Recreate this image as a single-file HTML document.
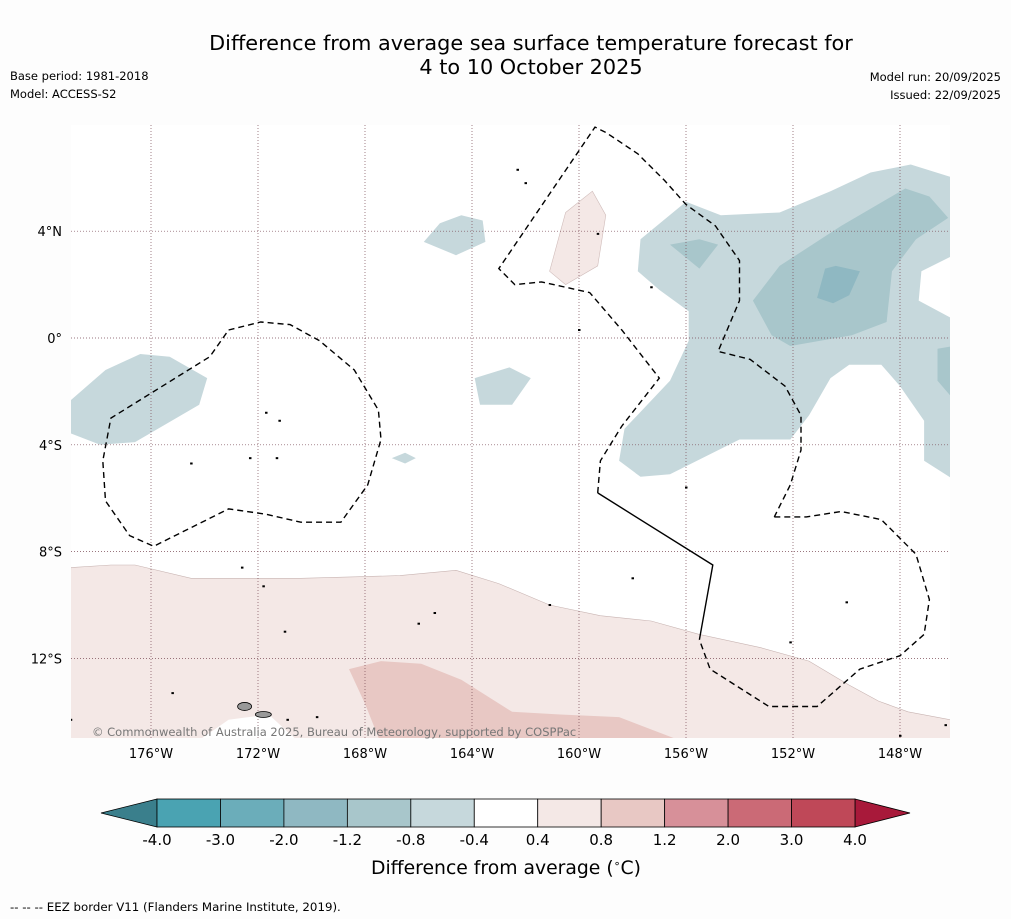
<!DOCTYPE html>
<html><head><meta charset="utf-8">
<style>
html,body{margin:0;padding:0;background:#fdfdfd;}
svg{display:block;font-family:"DejaVu Sans","Liberation Sans",sans-serif;}
</style></head>
<body>
<svg id="chart" width="1011" height="919" viewBox="0 0 1011 919" xmlns="http://www.w3.org/2000/svg">
<rect width="1011" height="919" fill="#fdfdfd"/>
<text x="531" y="50" font-size="20.8" text-anchor="middle">Difference from average sea surface temperature forecast for</text>
<text x="531" y="74" font-size="20.8" text-anchor="middle">4 to 10 October 2025</text>
<text x="10" y="80" font-size="11.5">Base period: 1981-2018</text>
<text x="10" y="98" font-size="11.5">Model: ACCESS-S2</text>
<text x="1001" y="81" font-size="11.5" text-anchor="end">Model run: 20/09/2025</text>
<text x="1001" y="99" font-size="11.5" text-anchor="end">Issued: 22/09/2025</text>
<defs><clipPath id="mapclip"><rect x="71" y="125" width="879" height="613"/></clipPath></defs>
<rect x="71" y="125" width="879" height="613" fill="#ffffff"/>
<g id="fills" clip-path="url(#mapclip)"></g>
<g id="grid" clip-path="url(#mapclip)"></g>
<g id="eez" clip-path="url(#mapclip)"></g>
<g id="islands" clip-path="url(#mapclip)"></g>
<g id="axes"></g>
<text x="92" y="736" font-size="11.5" fill="#777">© Commonwealth of Australia 2025, Bureau of Meteorology, supported by COSPPac</text>
<g id="colorbar"></g>
<text x="506" y="874" font-size="18.8" text-anchor="middle">Difference from average (<tspan font-size="11" dy="-7">∘</tspan><tspan dy="7">C)</tspan></text>
<text x="10" y="911" font-size="11.8">--  --  -- EEZ border V11 (Flanders Marine Institute, 2019).</text>
</svg>
<script>
const lonTicks = [176,172,168,164,160,156,152,148];
const latTicks = [4,0,-4,-8,-12];
const latLabels = ["4°N","0°","4°S","8°S","12°S"];
const cbLevels = [-4.0,-3.0,-2.0,-1.2,-0.8,-0.4,0.4,0.8,1.2,2.0,3.0,4.0];
const cbColors = ["#4aa3b2","#6badba","#8fb8c2","#a8c6cb","#c6d8dc","#ffffff","#f4e8e6","#e8c8c4","#d79099","#cb6a76","#bf4858"];

const pinkLight = [[179,-8.6],[177.5,-8.5],[176.6,-8.5],[174.5,-9.0],[172.7,-9.0],[170.4,-9.0],[166.7,-8.9],[164.6,-8.7],[163,-9.2],[161.1,-10.0],[159.2,-10.4],[157.3,-10.6],[155.5,-11.1],[153.2,-11.6],[151.4,-12.1],[149.9,-13.0],[148.8,-13.6],[147.7,-14.0],[146.1,-14.3],[146.0,-15.2],[179.2,-15.2]];
const pinkNotch = [[174.4,-15.2],[173.1,-14.3],[171.6,-14.1],[170.4,-15.2]];
const pinkDark = [[168.6,-12.4],[167.4,-12.1],[165.9,-12.2],[164.4,-12.8],[162.5,-14.0],[160.7,-14.1],[158.5,-14.2],[155.9,-15.2],[167.4,-15.2],[168.0,-13.7]];
const pinkNorth = [[160.5,4.7],[159.5,5.5],[159.0,4.6],[159.3,2.7],[160.5,2.0],[161.1,2.5]];
const blueEast = [[157.8,2.5],[157.7,3.7],[156,5.1],[154.7,4.6],[152.5,4.7],[150.6,5.5],[149.1,6.2],[147.6,6.5],[146.0,6.0],[146.0,3.1],[147.2,2.5],[147.3,1.4],[146.0,0.7],[146.0,-5.3],[147.1,-4.6],[147.1,-3.1],[148,-1.8],[148.7,-1.0],[149.9,-1.0],[150.6,-1.5],[151.4,-2.9],[152.1,-3.8],[154,-3.8],[156.6,-5.1],[157.7,-5.2],[158.5,-4.6],[158.3,-3.4],[156.6,-1.6],[155.9,-0.1],[155.9,1.0],[157,1.8]];
const blueMidA = [[153.5,1.4],[152.5,2.7],[150.2,4.2],[147.8,5.6],[146.9,5.3],[146.2,4.5],[147.4,3.7],[148.3,2.5],[148.5,0.6],[149.8,0.1],[152.1,-0.3],[152.8,0.1]];
const blueMidB = [[156.6,3.5],[155.5,3.7],[154.8,3.5],[155.5,2.6]];
const blueMidC = [[146.6,-0.4],[146.0,-0.3],[146.0,-2.3],[146.6,-1.6]];
const blueDark = [[150.8,2.6],[150.4,2.7],[149.5,2.5],[149.9,1.6],[150.5,1.3],[151.1,1.5]];
const blueWest = [[179.2,-2.5],[177.7,-1.2],[176.4,-0.6],[175.3,-0.7],[173.9,-1.5],[174.2,-2.5],[176.6,-3.9],[177.9,-4.0],[179.2,-3.5]];
const blueTop = [[165.8,3.6],[165.2,4.3],[164.4,4.6],[163.6,4.4],[163.5,3.6],[164.6,3.1]];
const blueCenter = [[163.9,-1.5],[162.6,-1.1],[161.8,-1.5],[162.5,-2.5],[163.7,-2.5]];
const blueTiny = [[167,-4.5],[166.5,-4.3],[166.1,-4.5],[166.5,-4.7]];

const eezWest = [[173.1,0.3],[171.9,0.6],[170.8,0.5],[169.7,-0.1],[168.4,-1.2],[167.5,-2.7],[167.4,-3.8],[167.9,-5.5],[168.9,-6.9],[170.4,-6.9],[171.7,-6.6],[173.1,-6.4],[175.9,-7.8],[176.8,-7.4],[177.7,-6.1],[177.8,-4.6],[177.5,-3.0],[173.8,-0.7],[173.1,0.3]];
const eezLineA = [[159.3,-5.8],[159.2,-4.6],[158.4,-3.3],[157,-1.5],[158.4,0.3],[159.6,1.7],[161.4,2.1],[162.4,2.0],[163,2.6],[159.4,7.9],[159,7.7],[157.8,6.9],[156.8,5.9],[156,5.0],[154.9,4.2],[154.0,2.9],[154,1.4],[154.8,-0.5],[153.6,-0.8],[152.3,-1.8],[151.7,-2.9],[151.7,-4.2],[152.1,-5.5],[152.7,-6.7]];
const eezLineB = [[152.7,-6.7],[151.5,-6.7],[150.2,-6.5],[148.7,-6.8],[147.4,-8.1],[146.9,-9.8],[147.1,-11.1],[148,-11.9],[149.5,-12.4],[151.1,-13.8],[152.9,-13.8],[155.1,-12.4],[155.5,-11.3]];
const boundarySolid = [[155.5,-11.3],[155.0,-8.5],[159.3,-5.8]];
const islandPts = [[171.7,-2.8],[171.2,-3.1],[174.5,-4.7],[172.3,-4.5],[171.3,-4.5],[162.3,6.3],[162.0,5.8],[159.3,3.9],[157.3,1.9],[160.0,0.3],[158.0,-9.0],[156.0,-5.6],[161.1,-10.0],[166.0,-10.7],[172.6,-8.6],[171.8,-9.3],[171.0,-11.0],[150.0,-9.9],[152.1,-11.4],[179.0,-14.3],[175.2,-13.3],[170.9,-14.3],[169.8,-14.2],[148.0,-14.9],[146.3,-14.5],[165.4,-10.3]];
const grayIslands = [[172.5,-13.8],[171.8,-14.1]];

const NS="http://www.w3.org/2000/svg";
function px(lon){return 151 + (176 - lon) * 26.75;}
function py(lat){return 338 - lat * 26.7;}
function pts(arr){return arr.map(p=>px(p[0]).toFixed(1)+","+py(p[1]).toFixed(1)).join(" ");}
function mk(tag,attrs,parent){const e=document.createElementNS(NS,tag);for(const k in attrs)e.setAttribute(k,attrs[k]);parent.appendChild(e);return e;}

const fills=document.getElementById('fills');
function poly(arr,fill,name,stroke){
  const e=mk('polygon',{points:pts(arr),fill:fill,stroke:stroke||'none','stroke-width':0.6},fills);
  
  
}
poly(pinkLight,"#f4e8e6","anomaly-0.4-0.8-south","#c8b4b2");
poly(pinkNotch,"#ffffff","anomaly-neutral-notch");
poly(pinkDark,"#e8c8c4","anomaly-0.8-1.2-south");
poly(pinkNorth,"#f4e8e6","anomaly-0.4-0.8-north","#d0bcba");
poly(blueEast,"#c6d8dc","anomaly-neg0.4-east");
poly(blueMidA,"#a8c6cb","anomaly-neg0.8-east");
poly(blueMidB,"#a8c6cb","anomaly-neg0.8-patch");
poly(blueMidC,"#a8c6cb","anomaly-neg0.8-edge");
poly(blueDark,"#8fb8c2","anomaly-neg1.2-core");
poly(blueWest,"#c6d8dc","anomaly-neg0.4-west");
poly(blueTop,"#c6d8dc","anomaly-neg0.4-top");
poly(blueCenter,"#c6d8dc","anomaly-neg0.4-center");
poly(blueTiny,"#c6d8dc","anomaly-neg0.4-tiny");

const grid=document.getElementById('grid');
const axes=document.getElementById('axes');
lonTicks.forEach(l=>{
  const ln=mk('line',{x1:px(l),x2:px(l),y1:125,y2:738,stroke:'#7a4a55','stroke-width':0.7,'stroke-dasharray':'1,2'},grid);
  
  
  const t=mk('text',{x:px(l),y:758,'font-size':13,'text-anchor':'middle'},axes);
  t.textContent=l+"°W";
  
  
});
latTicks.forEach((l,i)=>{
  const ln=mk('line',{x1:71,x2:950,y1:py(l),y2:py(l),stroke:'#7a4a55','stroke-width':0.7,'stroke-dasharray':'1,2'},grid);
  
  
  const t=mk('text',{x:62,y:py(l)+5,'font-size':13,'text-anchor':'end'},axes);
  t.textContent=latLabels[i];
  
  
});

const eez=document.getElementById('eez');
[[eezWest,'eez-border-west'],[eezLineA,'eez-border-central'],[eezLineB,'eez-border-southeast']].forEach(d=>{
  const e=mk('polyline',{points:pts(d[0]),fill:'none',stroke:'#000','stroke-width':1.4,'stroke-dasharray':'6,4'},eez);
  
  
});
const sb=mk('polyline',{points:pts(boundarySolid),fill:'none',stroke:'#000','stroke-width':1.4},eez);



const isl=document.getElementById('islands');
islandPts.forEach(p=>{
  const c=mk('rect',{x:px(p[0])-1,y:py(p[1])-1,width:2.5,height:2,fill:'#000'},isl);
  
  
});
grayIslands.forEach((p,i)=>{
  const c=mk('ellipse',{cx:px(p[0]),cy:py(p[1]),rx:i?8:7,ry:i?3:4,fill:'#999',stroke:'#000','stroke-width':0.8},isl);
  
  
});

const cb=document.getElementById('colorbar');
const cbX0=157, cbX1=855, cbY=799, cbH=28;
const bw=(cbX1-cbX0)/(cbLevels.length-1);
const lt=mk('polygon',{points:`${cbX0},${cbY} ${cbX0},${cbY+cbH} 101,${cbY+cbH/2}`,fill:'#3a7f8c',stroke:'#000','stroke-width':0.8},cb);


const rt=mk('polygon',{points:`${cbX1},${cbY} ${cbX1},${cbY+cbH} 910,${cbY+cbH/2}`,fill:'#a8193a',stroke:'#000','stroke-width':0.8},cb);


cbColors.forEach((c,i)=>{
  const r=mk('rect',{x:cbX0+i*bw,y:cbY,width:bw,height:cbH,fill:c,stroke:'#000','stroke-width':0.8},cb);
  
  
});
cbLevels.forEach((v,i)=>{
  const t=mk('text',{x:cbX0+i*bw,y:845,'font-size':15,'text-anchor':'middle'},cb);
  t.textContent=v.toFixed(1);
  
  
});
</script>
</body></html>
